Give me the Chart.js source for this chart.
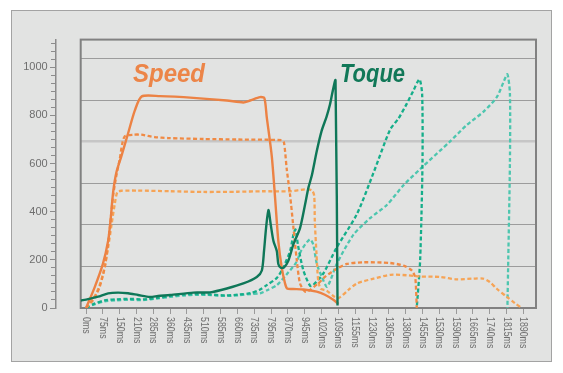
<!DOCTYPE html>
<html><head><meta charset="utf-8">
<script src="https://cdn.jsdelivr.net/npm/chart.js@4.4.1/dist/chart.umd.min.js"></script>
<style>
html,body{margin:0;padding:0;background:#fff;width:563px;height:373px;overflow:hidden}
#panel{position:absolute;left:11px;top:10px;width:539px;height:350px;background:#e2e3e2;border:1px solid #a3a3a3}
#c{position:absolute;left:0;top:0}
</style></head><body><div id="panel"></div><canvas id="c" width="563" height="373"></canvas>
<script>
// ---- tick labels ----
const xLabels = ['0ms','75ms','150ms','210ms','285ms','360ms','435ms','510ms','585ms','660ms','735ms','795ms','870ms','945ms','1020ms','1095ms','1155ms','1230ms','1305ms','1380ms','1455ms','1530ms','1590ms','1665ms','1740ms','1815ms','1890ms'];
const yTickValues = [0, 200, 400, 600, 800, 1000];
const yMinorTicks = [0,33.3,66.7,100,133.3,166.7,200,233.3,266.7,300,333.3,366.7,400,433.3,466.7,500,533.3,566.7,600,633.3,666.7,700,733.3,766.7,800,833.3,866.7,900,933.3,966.7,1000,1033.3,1066.7,1100];
const gridValues = [172.8, 345.6, 518.4, 691.2, 864, 1036.8];

// ---- series (x in tick-index units, y values) ----
const speedPos = [0,0.52,1.0,1.31,1.45,1.61,1.80,2.1,2.5,2.9,3.31,4.4,6.38,8.37,9.35,9.75,10.34,10.6,10.74,11.04,11.24,11.43,11.63,11.83,11.95,12.3,12.92,13.71,14.2,14.7,15.0];
const speedVal = [0,88,183,278,360,482,563,631,726,821,879,880,873,862,854,862,876,872,794,631,455,278,169,102,81,79,77,68,55,34,17];

const speedDash1Pos = [0,0.42,0.81,1.15,1.41,1.61,1.8,2.0,2.14,2.3,2.79,3.29,4.08,4.88,7,9,11.63,11.77,11.93,12.13,12.33,12.53,12.72,13.02,13.2,13.8,14.2,14.9,15.5,16.5,18.07,18.87,19.36,19.56,19.62,19.66];
const speedDash1Val = [0,34,88,183,332,468,550,618,679,713,720,720,710,706,702,700,697,686,577,468,332,197,102,68,70,102,129,163,183,190,187,176,156,129,75,0];

const speedDash2Pos = [0,0.61,1.01,1.31,1.5,1.7,1.86,2.1,3,5,7,9,10.5,12.13,13.02,13.42,13.56,13.6,13.7,13.8,13.95,14.3,14.7,15.0,15.6,16.1,17.1,18.1,19.06,19.86,21.05,22.04,23.03,23.6,24.0,24.4,25.0,25.5,25.9];
const speedDash2Val = [0,61,143,251,340,430,482,487,488,485,482,483,485,485,493,489,468,360,224,115,80,72,50,41,75,102,122,138,136,131,129,119,122,122,108,81,47,20,0];

const toquePos = [-0.32,0.12,0.71,1.31,1.9,2.5,3.09,3.8,4.28,5.0,6.38,7.37,8.37,9.35,10.15,10.45,10.58,10.7,10.84,10.98,11.14,11.34,11.43,11.58,11.77,12.03,12.33,12.72,13.02,13.22,13.42,13.71,14.0,14.3,14.5,14.67,14.83,14.95];
const toqueVal = [31,37,47,61,64,61,54,46,50,54,64,65,81,102,129,156,237,332,407,346,278,237,183,167,169,197,265,332,430,500,550,650,735,795,845,903,946,10];

const toqueDash1Pos = [0,0.5,1.1,1.8,2.6,3.4,4.3,5.0,5.8,6.6,7.4,8.3,9.1,9.8,10.3,10.74,11.34,11.73,12.13,12.33,12.45,12.6,12.92,13.32,13.5,14.1,14.9,16.1,17.08,18.07,18.57,19.07,19.46,19.82,19.98,20.0,19.86,19.66];
const toqueDash1Val = [0,18,32,36,38,36,42,50,56,58,56,52,56,62,75,95,125,169,237,305,326,260,156,92,95,143,251,390,560,740,787,849,903,950,888,600,197,0];

const toqueDash2Pos = [0,0.5,1.1,1.8,2.6,3.4,4.3,5.0,5.8,6.6,7.4,8.3,9.1,9.8,10.34,10.8,11.34,11.93,12.5,12.8,13.3,13.5,13.72,14.02,14.31,14.5,14.9,15.9,16.88,17.88,18.86,19.86,21.64,22.63,23.62,24.42,24.81,25.05,25.2,25.2,25.1,25.05];
const toqueDash2Val = [0,15,28,32,34,33,40,46,52,55,54,50,53,58,61,75,95,140,190,240,285,265,183,129,88,110,183,305,373,428,509,577,692,760,815,876,937,971,889,605,197,0];

const xAxisLinePos = -1.78;

function pts(p, v) { return p.map((x, i) => ({x: x, y: v[i]})); }

const framePlugin = {
  id: 'frame',
  beforeDatasetsDraw(chart) {
    const a = chart.chartArea, ctx = chart.ctx;
    ctx.save(); ctx.strokeStyle = '#818181'; ctx.lineWidth = 2;
    ctx.strokeRect(a.left, a.top, a.right - a.left, a.bottom - a.top);
    ctx.restore();
  }
};
const xLabelPlugin = {
  id: 'xLabels',
  afterDraw(chart) {
    const s = chart.scales.x, ctx = chart.ctx;
    ctx.save();
    ctx.fillStyle = '#6f6f6f';
    ctx.font = '10.5px "Liberation Sans", Arial, sans-serif';
    ctx.textAlign = 'left'; ctx.textBaseline = 'middle';
    s.ticks.forEach(t => {
      const px = s.getPixelForValue(t.value);
      ctx.save(); ctx.translate(px, 317); ctx.rotate(Math.PI / 2); ctx.scale(0.84, 1);
      ctx.fillText(xLabels[t.value], 0, 0); ctx.restore();
    });
    ctx.restore();
  }
};
const titlePlugin = {
  id: 'titles',
  afterDatasetsDraw(chart) {
    const ctx = chart.ctx;
    ctx.save();
    ctx.font = 'italic bold 25px "Liberation Sans", Arial, sans-serif';
    ctx.textAlign = 'left'; ctx.textBaseline = 'alphabetic';
    ctx.fillStyle = '#EC8548';
    ctx.fillText('Speed', 133, 82, 72);
    ctx.fillStyle = '#117858';
    ctx.fillText('Toque', 340, 82, 65);
    ctx.restore();
  }
};

const dashedCommon = {borderWidth: 2.3, borderDash: [4, 2.5], pointRadius: 0, fill: false, tension: 0.25};

new Chart(document.getElementById('c'), {
  type: 'line',
  data: {
    datasets: [
      {label: 'Toque', data: pts(toquePos, toqueVal), borderColor: '#0F7758', borderWidth: 2.4, pointRadius: 0, tension: 0.25},
      {label: 'Speed', data: pts(speedPos, speedVal), borderColor: '#EC8244', borderWidth: 2.4, pointRadius: 0, tension: 0.25},
      Object.assign({label: 'Speed 2', data: pts(speedDash1Pos, speedDash1Val), borderColor: '#F08A44'}, dashedCommon),
      Object.assign({label: 'Speed 3', data: pts(speedDash2Pos, speedDash2Val), borderColor: '#F6A456'}, dashedCommon),
      Object.assign({label: 'Toque 2', data: pts(toqueDash1Pos, toqueDash1Val), borderColor: '#15AE8A'}, dashedCommon),
      Object.assign({label: 'Toque 3', data: pts(toqueDash2Pos, toqueDash2Val), borderColor: '#4DC6AF'}, dashedCommon)
    ]
  },
  options: {
    responsive: false, animation: false, devicePixelRatio: 1,
    layout: {padding: {left: 20.7, top: 34.5, right: 27, bottom: 0}},
    plugins: {legend: {display: false}, tooltip: {enabled: false}},
    scales: {
      x: {
        type: 'linear', position: 'bottom', min: -0.32, max: 26.75,
        afterBuildTicks: s => { s.ticks = xLabels.map((_, i) => ({value: i})); },
        afterFit: s => { s.height = 65; },
        ticks: {display: false},
        grid: {drawOnChartArea: false, drawTicks: true, tickLength: 6, color: '#9a9a9a', lineWidth: 1},
        border: {display: false}
      },
      y: {
        type: 'linear', position: 'left', min: 0, max: 1115,
        afterBuildTicks: s => { s.ticks = yTickValues.map(v => ({value: v})); },
        afterFit: s => { s.width = 60; },
        ticks: {padding: 33, color: '#6e6e6e', font: {family: '"Liberation Sans", Arial, sans-serif', size: 11},
          callback: v => String(v)},
        grid: {display: false, drawTicks: false},
        border: {display: false}
      },
      yGrid: {
        axis: 'y', type: 'linear', position: {x: 0}, min: 0, max: 1115,
        afterBuildTicks: s => { s.ticks = gridValues.map(v => ({value: v})); },
        ticks: {display: false},
        grid: {drawOnChartArea: true, drawTicks: false,
          color: c => (c.tick && Math.abs(c.tick.value - 691.2) < 1) ? '#c6c6c6' : '#9c9c9c',
          lineWidth: c => (c.tick && Math.abs(c.tick.value - 691.2) < 1) ? 2.5 : 1},
        border: {display: false}
      },
      yLine: {
        axis: 'y', type: 'linear', position: {x: xAxisLinePos}, min: 0, max: 1115,
        afterBuildTicks: s => { s.ticks = yMinorTicks.map(v => ({value: v})); },
        ticks: {display: false},
        grid: {drawOnChartArea: false, drawTicks: true, tickLength: 4, color: '#8c8c8c', lineWidth: 1},
        border: {display: true, color: '#8c8c8c', width: 1.5}
      },
      yMajor: {
        axis: 'y', type: 'linear', position: {x: xAxisLinePos}, min: 0, max: 1115,
        afterBuildTicks: s => { s.ticks = yTickValues.map(v => ({value: v})); },
        ticks: {display: false},
        grid: {drawOnChartArea: false, drawTicks: true, tickLength: 6, color: '#8c8c8c', lineWidth: 1},
        border: {display: false}
      }
    }
  },
  plugins: [framePlugin, xLabelPlugin, titlePlugin]
});
</script></body></html>
